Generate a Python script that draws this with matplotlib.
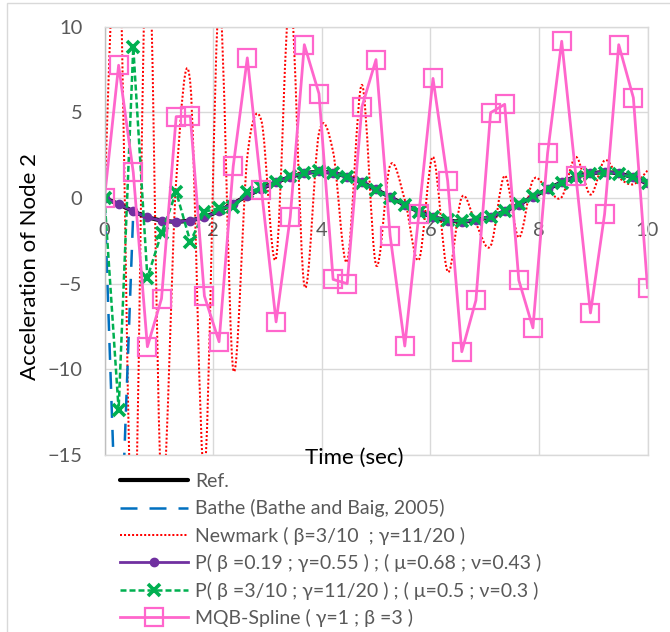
import matplotlib
matplotlib.use("Agg")
import matplotlib.pyplot as plt
from matplotlib.path import Path
from matplotlib.patches import PathPatch, Rectangle
from matplotlib.lines import Line2D

plt.rcParams['font.family'] = ['Lato', 'DejaVu Sans']

# Time steps (s)
time = [0.00, 0.26, 0.53, 0.79, 1.05, 1.32, 1.58, 1.84, 2.11, 2.37,
        2.63, 2.89, 3.16, 3.42, 3.68, 3.95, 4.21, 4.47, 4.74, 5.00,
        5.26, 5.53, 5.79, 6.05, 6.32, 6.58, 6.84, 7.11, 7.37, 7.63,
        7.89, 8.16, 8.42, 8.68, 8.95, 9.21, 9.47, 9.74, 10.00]

# Acceleration of node 2 for each scheme
ref = [0, -0.35, -0.78, -1.13, -1.32, -1.40, -1.32, -1.12, -0.76, -0.32,
       0.13, 0.55, 0.93, 1.23, 1.45, 1.55, 1.47, 1.25, 0.92, 0.50,
       0.05, -0.40, -0.80, -1.12, -1.32, -1.38, -1.30, -1.10, -0.78, -0.38,
       0.08, 0.52, 0.92, 1.25, 1.45, 1.52, 1.45, 1.20, 0.85]

bathe = [0, -24.0, -0.80, -1.12, -1.31, -1.39, -1.31, -1.10, -0.75, -0.30,
         0.14, 0.56, 0.94, 1.24, 1.45, 1.54, 1.46, 1.24, 0.91, 0.49,
         0.04, -0.41, -0.80, -1.12, -1.31, -1.37, -1.29, -1.09, -0.77, -0.37,
         0.09, 0.53, 0.92, 1.25, 1.44, 1.51, 1.44, 1.19, 0.84]

newmark = [0, 16.0, -22.0, 17.0, -17.0, 1.0, 6.7, -16.0, 11.5, -10.0,
           2.4, 4.5, -3.5, 12.0, -5.1, 3.8, 2.7, -3.7, 6.6, -3.9,
           1.9, -0.1, -3.6, 2.4, -4.3, 0.05, -1.5, -2.8, 1.3, -2.3,
           1.05, 0.5, 0.05, 2.4, 0.2, 2.2, 1.2, 0.8, 1.6]

p_opt = [0, -0.35, -0.78, -1.13, -1.32, -1.40, -1.32, -1.12, -0.76, -0.32,
         0.13, 0.55, 0.93, 1.23, 1.45, 1.55, 1.47, 1.25, 0.92, 0.50,
         0.05, -0.40, -0.80, -1.12, -1.32, -1.38, -1.30, -1.10, -0.78, -0.38,
         0.08, 0.52, 0.92, 1.25, 1.45, 1.52, 1.45, 1.20, 0.85]

p_nm = [0, -12.35, 8.8, -4.65, -2.05, 0.35, -2.55, -0.80, -0.60, -0.55,
        0.33, 0.62, 0.92, 1.28, 1.48, 1.57, 1.48, 1.22, 0.90, 0.48,
        0.03, -0.42, -0.82, -1.12, -1.30, -1.35, -1.25, -1.08, -0.76, -0.36,
        0.10, 0.52, 0.90, 1.22, 1.40, 1.45, 1.40, 1.20, 0.90]

mqb = [0, 7.75, 1.49, -8.68, -5.87, 4.75, 4.78, -5.72, -8.39, 1.84,
       8.18, 0.48, -7.23, -1.12, 8.95, 6.09, -4.75, -5.00, 5.31, 8.08,
       -2.19, -8.64, -0.93, 6.98, 1.00, -8.97, -5.97, 4.98, 5.47, -4.80,
       -7.58, 2.62, 9.15, 1.30, -6.71, -0.93, 8.95, 5.85, -5.23]

labels = ["Ref.",
          "Bathe (Bathe and Baig, 2005)",
          "Newmark ( β=3/10  ; γ=11/20 )",
          "P( β =0.19 ; γ=0.55 ) ; ( μ=0.68 ; ν=0.43 )",
          "P( β =3/10 ; γ=11/20 ) ; ( μ=0.5 ; ν=0.3 )",
          "MQB-Spline ( γ=1 ; β =3 )"]

x_ticks = [0, 2, 4, 6, 8, 10]
y_ticks = [-15, -10, -5, 0, 5, 10]

W, H = 670, 632
fig = plt.figure(figsize=(W / 100, H / 100), dpi=100)
ax_bottom_px, ax_top_px = 455, 26.7
ax = fig.add_axes([104.5 / W, 1 - ax_bottom_px / H, 543 / W,
                   (ax_bottom_px - ax_top_px) / H])

grid_c = '#D9D9D9'
tick_c = '#595959'


def smooth_path(xs, ys):
    """Cubic Bezier path through the points (smoothed line)."""
    n = len(xs)
    verts = [(xs[0], ys[0])]
    codes = [Path.MOVETO]
    for i in range(n - 1):
        x0, y0 = (xs[i - 1], ys[i - 1]) if i > 0 else (xs[i], ys[i])
        x1, y1 = xs[i], ys[i]
        x2, y2 = xs[i + 1], ys[i + 1]
        x3, y3 = (xs[i + 2], ys[i + 2]) if i + 2 < n else (x2, y2)
        c1 = (x1 + (x2 - x0) / 6, y1 + (y2 - y0) / 6)
        c2 = (x2 - (x3 - x1) / 6, y2 - (y3 - y1) / 6)
        verts += [c1, c2, (x2, y2)]
        codes += [Path.CURVE4] * 3
    return Path(verts, codes)


ref_style = dict(color='black', lw=3.0, solid_capstyle='round')
bathe_style = dict(color='#0070C0', lw=1.8, linestyle=(0, (6.8, 4.8)))
nm_style = dict(color='#FF0000', lw=1.45, linestyle=(0, (1, 1)))
popt_style = dict(color='#7030A0', lw=2.0, marker='o', ms=6.0)
pnm_style = dict(color='#00B050', lw=1.8, linestyle=(0, (2.4, 1.2)),
                 marker='x', ms=9, mew=2.6)
mqb_style = dict(color='#FF66CC', lw=2.0, marker='s', ms=12.5,
                 mfc='none', mec='#FF66CC', mew=1.6)

h_ref, = ax.plot(time, ref, **ref_style)
h_bathe, = ax.plot(time, bathe, **bathe_style)
nm_patch = PathPatch(smooth_path(time, newmark), fill=False,
                     edgecolor=nm_style['color'], lw=nm_style['lw'],
                     linestyle=nm_style['linestyle'], capstyle='butt')
ax.add_patch(nm_patch)
h_nm = Line2D([], [], **nm_style)
h_popt, = ax.plot(time, p_opt, **popt_style)
h_pnm, = ax.plot(time, p_nm, **pnm_style)
h_mqb, = ax.plot(time, mqb, **mqb_style)

ax.set_xlim(0, 10)
ax.set_ylim(-15, 10)
ax.set_xticks(x_ticks)
ax.set_yticks(y_ticks)
ax.grid(True, color=grid_c, lw=1.0)
ax.set_axisbelow(True)

for s in ['top', 'right', 'bottom']:
    ax.spines[s].set_color(grid_c)
    ax.spines[s].set_linewidth(1.0)
ax.spines['left'].set_color('#BFBFBF')
ax.spines['left'].set_linewidth(1.0)

ax.tick_params(axis='both', length=0, labelsize=14.5, labelcolor=tick_c)
ax.tick_params(axis='y', pad=16)
# horizontal-axis labels sit just under the zero line (label top ~222 px)
x_label_top_px = 222
ax.tick_params(axis='x', pad=-(ax_bottom_px - x_label_top_px) * 72 / 100)

fig.text(30 / W, 1 - 266.7 / H, "Acceleration of Node 2", rotation=90,
         ha='center', va='center', fontsize=16, color='black')
fig.text(354 / W, 1 - 458 / H, "Time (sec)", ha='center', va='center',
         fontsize=16, color='black')

leg = fig.legend([h_ref, h_bathe, h_nm, h_popt, h_pnm, h_mqb], labels,
                 loc='upper left', bbox_to_anchor=(120 / W, 1 - 473 / H),
                 frameon=False, fontsize=14, numpoints=1,
                 handlelength=3.5, handletextpad=0.35, labelspacing=0.48,
                 borderpad=0, borderaxespad=0)
for t in leg.get_texts():
    t.set_color(tick_c)

fig.add_artist(Rectangle((7 / W, -0.05), 1.2, 1 - 3 / H + 0.05,
                         transform=fig.transFigure, fill=False,
                         edgecolor=grid_c, lw=1.0))

fig.savefig("out.png", dpi=100)
